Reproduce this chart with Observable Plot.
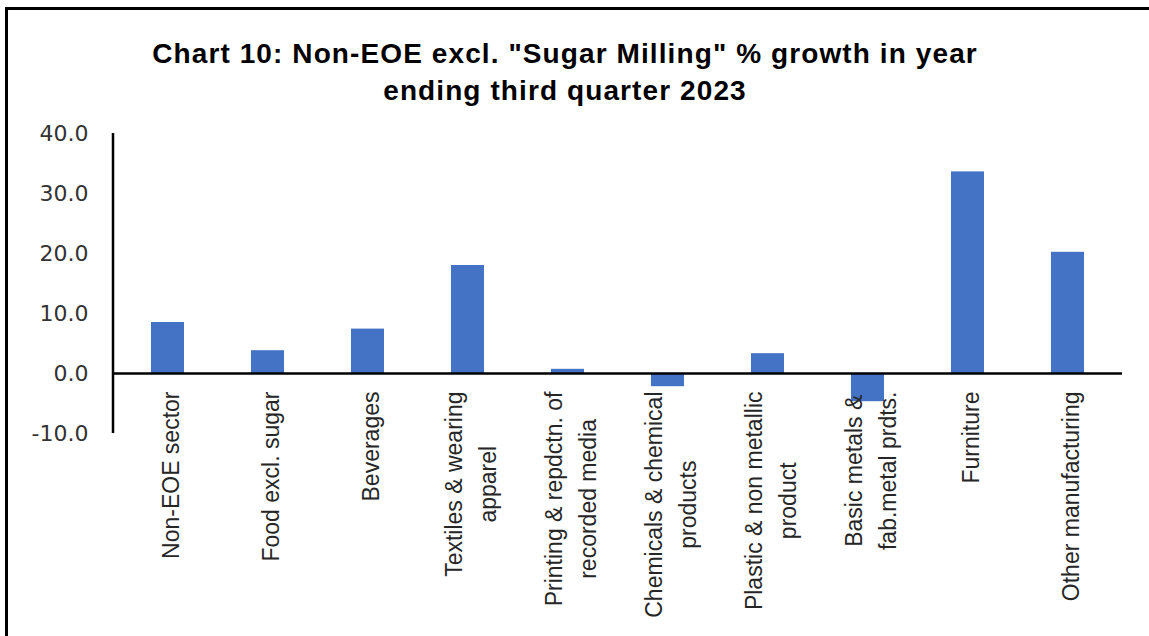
<!DOCTYPE html>
<html><head><meta charset="utf-8">
<script src="https://cdn.jsdelivr.net/npm/d3@7"></script>
<script src="https://cdn.jsdelivr.net/npm/@observablehq/plot@0.6"></script>
<style>
html,body{margin:0;padding:0;background:#fff;overflow:hidden;width:1149px;height:636px;}
#frame{position:absolute;left:5px;top:7px;width:1200px;height:700px;border-left:3px solid #000;border-top:3px solid #000;pointer-events:none;}
#title{height:110px;box-sizing:border-box;padding-top:35px;padding-right:19px;text-align:center;font:bold 28px "Liberation Sans",Arial,sans-serif;letter-spacing:1.1px;line-height:37px;color:#000;width:1149px;}
#chart svg{display:block;}
</style></head>
<body>
<div id="title">Chart 10: Non-EOE excl. "Sugar Milling" % growth in year<br>ending third quarter 2023</div>
<div id="chart"></div>
<div id="frame"></div>
<script>
const categories = ["Non-EOE sector", "Food excl. sugar", "Beverages", "Textiles & wearing apparel", "Printing & repdctn. of recorded media", "Chemicals & chemical products", "Plastic & non metallic product", "Basic metals & fab.metal prdts.", "Furniture", "Other manufacturing"];
const labels = ["Non-EOE sector", "Food excl. sugar", "Beverages", "Textiles & wearing\napparel", "Printing & repdctn. of\nrecorded media", "Chemicals & chemical\nproducts", "Plastic & non metallic\nproduct", "Basic metals &\nfab.metal prdts.", "Furniture", "Other manufacturing"];
const values = [8.5, 3.8, 7.4, 18.0, 0.7, -2.2, 3.3, -4.7, 33.6, 20.2];
const yTicks = [-10, 0, 10, 20, 30, 40];

const data = categories.map((c, i) => ({category: c, label: labels[i], value: values[i]}));

const yAxisLine = (index, scales, vals, dims) => {
  const [y0, y1] = d3.extent(yTicks);
  const g = d3.create("svg:g");
  g.append("line")
    .attr("x1", dims.marginLeft).attr("x2", dims.marginLeft)
    .attr("y1", scales.y(y0)).attr("y2", scales.y(y1))
    .attr("stroke", "#000").attr("stroke-width", 2.5);
  return g.node();
};

const chart = Plot.plot({
  width: 1149, height: 526,
  marginTop: 23, marginBottom: 203, marginLeft: 113, marginRight: 27,
  style: {background: "#fff", overflow: "visible", fontFamily: "Liberation Sans, Arial, sans-serif", color: "#333"},
  x: {domain: categories, paddingInner: 0.67, paddingOuter: 0.335, axis: null},
  y: {domain: d3.extent(yTicks), axis: null},
  marks: [
    Plot.barY(data, {x: "category", y: "value", fill: "#4472C4"}),
    Plot.ruleY([0], {stroke: "#000", strokeWidth: 2.5}),
    yAxisLine,
    Plot.axisY({ticks: yTicks, tickFormat: d => d.toFixed(1), tickSize: 0, tickPadding: 25, fontSize: 22, fontFamily: "DejaVu Sans", label: null}),
    Plot.text(data, {x: "category", y: 0, text: "label", rotate: -90, textAnchor: "end", lineAnchor: "middle", lineHeight: 1.5, fontSize: 23, dy: 18, fill: "#262626", fontFamily: "Liberation Sans, Arial, sans-serif"})
  ]
});
document.getElementById("chart").append(chart);
chart.querySelectorAll('g[aria-label="text"] text').forEach(t => {
  const spans = [...t.querySelectorAll("tspan")];
  if (spans.length < 2) return;
  const lens = spans.map(s => s.getComputedTextLength());
  const L = Math.max(...lens);
  spans.forEach((s, i) => s.setAttribute("x", -(L - lens[i]) / 2));
});
</script>
</body></html>
